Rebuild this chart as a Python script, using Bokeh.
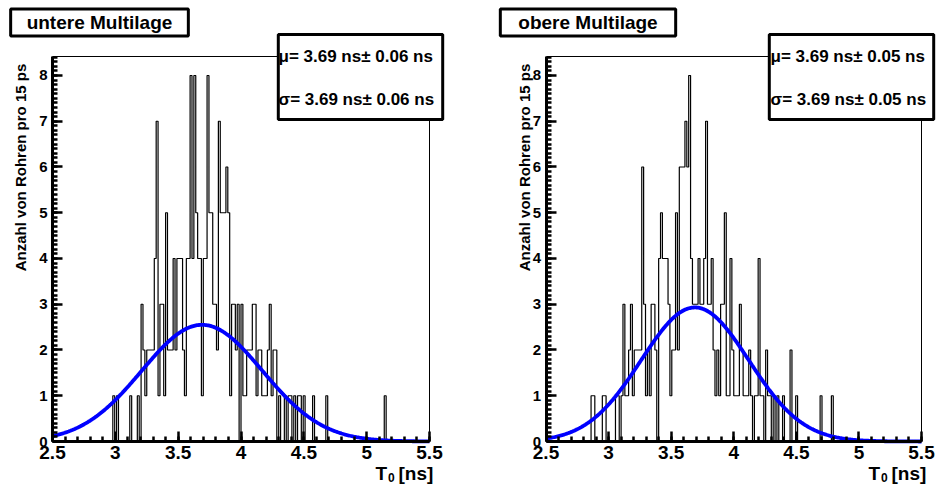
import math
import numpy as np
from bokeh.plotting import figure
from bokeh.models import FixedTicker, Label, Range1d, LinearAxis
from bokeh.layouts import row
from bokeh.embed import file_html
from bokeh.resources import INLINE

# ---------------- data ----------------
bin_start = 2.5
bin_width = 0.015          # 15 ps bins
n_bins = 200               # 2.5 .. 5.5 ns

counts_untere = (
    [0] * 20 +
    [0, 0, 0, 0, 0, 0, 0, 0, 0, 0, 0, 0, 1, 0, 1, 0, 0, 0, 0, 0] +
    [0, 1, 0, 0, 0, 1, 0, 3, 2, 1, 2, 2, 2, 2, 4, 7, 1, 3, 3, 1] +
    [5, 2, 2, 2, 4, 2, 4, 4, 4, 2, 1, 4, 4, 8, 4, 8, 5, 4, 4, 1] +
    [4, 4, 8, 5, 5, 3, 3, 2, 7, 5, 5, 5, 6, 5, 1, 3, 3, 2, 3, 0] +
    [3, 1, 1, 2, 2, 2, 3, 3, 1, 2, 2, 1, 1, 1, 2, 3, 1, 2, 2, 0] +
    [1, 0, 0, 1, 0, 1, 1, 0, 1, 0, 1, 1, 0, 1, 0, 0, 0, 0, 1, 0] +
    [0, 0, 0, 0, 0, 1, 0, 0, 0, 0, 0, 0, 0, 0, 0, 0, 0, 0, 0, 0] +
    [0, 0, 0, 0, 0, 0, 0, 0, 0, 0, 0, 0, 0, 0, 0, 0, 1, 0, 0, 0] +
    [0] * 20
)

counts_obere = (
    [0] * 20 +
    [0, 0, 0, 0, 1, 1, 0, 0, 0, 0, 1, 1, 0, 0, 0, 0, 0, 1, 1, 0] +
    [1, 3, 1, 1, 2, 3, 1, 2, 2, 2, 2, 6, 3, 1, 2, 1, 3, 3, 2, 0] +
    [4, 5, 4, 4, 4, 3, 1, 2, 2, 5, 2, 6, 6, 6, 7, 6, 8, 4, 3, 3] +
    [3, 4, 3, 3, 4, 7, 3, 3, 4, 2, 1, 2, 1, 3, 3, 5, 1, 1, 4, 2] +
    [1, 1, 1, 3, 2, 1, 1, 1, 2, 1, 0, 1, 1, 4, 1, 1, 0, 2, 1, 1] +
    [0, 1, 0, 1, 0, 0, 1, 0, 0, 0, 2, 0, 0, 1, 0, 0, 0, 0, 0, 0] +
    [0, 0, 0, 0, 0, 0, 1, 0, 0, 0, 0, 0, 1, 0, 0, 0, 0, 0, 0, 0] +
    [0] * 40
)

# Gaussian fit parameters (amplitude, mean [ns], sigma [ns])
fit_untere = (2.55, 3.69, 0.48)
fit_obere = (2.93, 3.69, 0.43)

titles = ["untere Multilage", "obere Multilage"]
stats_untere = ["\u03bc= 3.69 ns\u00b1 0.06 ns", "\u03c3= 3.69 ns\u00b1 0.06 ns"]
stats_obere = ["\u03bc= 3.69 ns\u00b1 0.05 ns", "\u03c3= 3.69 ns\u00b1 0.05 ns"]
y_title = "Anzahl von Rohren pro 15 ps"

x_ticks = [2.5, 3, 3.5, 4, 4.5, 5, 5.5]
x_tick_labels = ["2.5", "3", "3.5", "4", "4.5", "5", "5.5"]
y_ticks = [0, 1, 2, 3, 4, 5, 6, 7, 8]
y_tick_labels = ["0", "1", "2", "3", "4", "5", "6", "7", "8"]

X_MIN, X_MAX = 2.5, 5.5
Y_MAX = 8.415

FONT = "Liberation Sans"
FIG_W, FIG_H = 468, 485


def make_panel(counts, fit, title, stats, geo):
    fx = geo["fig_x"]
    X0, X1 = geo["frame_x0"], geo["frame_x1"]
    Y0, Y1 = 441, 56

    sx = (X1 - X0) / (X_MAX - X_MIN)     # px per ns
    sy = (Y0 - Y1) / Y_MAX               # px per count

    def px_x(px):
        return X_MIN + (px - X0) / sx

    def px_y(py):
        return (Y0 - py) / sy

    p = figure(width=FIG_W, height=FIG_H,
               x_range=Range1d(px_x(fx), px_x(fx + FIG_W)),
               y_range=Range1d(px_y(FIG_H), px_y(0)),
               output_backend="svg", toolbar_location=None,
               min_border=0, min_border_left=0, min_border_right=0,
               min_border_top=0, min_border_bottom=0)
    p.grid.visible = False
    p.outline_line_color = None
    p.background_fill_color = "white"
    p.border_fill_color = "white"

    # axes, drawn at the histogram frame via fixed_location
    xa = p.xaxis[0]
    xa.fixed_location = 0
    xa.bounds = (X_MIN, X_MAX)
    xa.ticker = FixedTicker(ticks=x_ticks,
                            minor_ticks=[round(2.5 + 0.1 * i, 2) for i in range(31)])
    xa.major_label_overrides = {t: l for t, l in zip(x_ticks, x_tick_labels)}
    ya = p.yaxis[0]
    ya.fixed_location = X_MIN
    ya.bounds = (0, Y_MAX)
    ya.ticker = FixedTicker(ticks=y_ticks,
                            minor_ticks=[round(0.1 * i, 2) for i in range(85)])
    ya.major_label_overrides = {t: l for t, l in zip(y_ticks, y_tick_labels)}
    for ax in (xa, ya):
        ax.axis_line_width = 3
        ax.axis_line_color = "black"
        ax.major_tick_in = 10
        ax.major_tick_out = 0
        ax.minor_tick_in = 5
        ax.minor_tick_out = 0
        ax.major_tick_line_width = 2.5
        ax.minor_tick_line_width = 2.5
        ax.major_tick_line_color = "black"
        ax.minor_tick_line_color = "black"
        ax.major_label_text_font = FONT
        ax.major_label_text_font_style = "bold"
        ax.major_label_text_color = "black"
    xa.major_label_text_font_size = "19px"
    xa.major_label_standoff = 4
    ya.major_label_text_font_size = "15px"
    ya.major_label_standoff = 5

    # thin top and right frame lines (axes without ticks)
    top = LinearAxis(fixed_location=Y_MAX, bounds=(X_MIN, X_MAX),
                     ticker=FixedTicker(ticks=[], minor_ticks=[]),
                     axis_line_width=1, axis_line_color="black",
                     major_label_text_font_size="0px")
    right = LinearAxis(fixed_location=X_MAX, bounds=(0, Y_MAX),
                       ticker=FixedTicker(ticks=[], minor_ticks=[]),
                       axis_line_width=1, axis_line_color="black",
                       major_label_text_font_size="0px")
    p.add_layout(top, "above")
    p.add_layout(right, "right")

    # histogram (step outline)
    edges = [bin_start + bin_width * i for i in range(n_bins + 1)]
    step_y = list(counts) + [counts[-1]]
    p.step(edges, step_y, mode="after", line_color="black", line_width=1.2)

    # Gaussian fit
    amp, mu, sig = fit
    xs = np.linspace(X_MIN, X_MAX, 400)
    ys = amp * np.exp(-0.5 * ((xs - mu) / sig) ** 2)
    p.line(xs, ys, line_color="#0000ff", line_width=3.8)

    # title box
    tb = geo["title_box"]
    p.add_layout(Label(x=px_x((tb[0] + tb[1]) / 2), y=px_y(22), text=title,
                       text_align="center", text_baseline="middle",
                       text_font=FONT, text_font_style="bold", text_font_size="19px",
                       text_color="black",
                       border_line_color="black", border_line_width=3,
                       background_fill_color="white", background_fill_alpha=1.0,
                       padding=dict(left=geo["title_pad"], right=geo["title_pad"], top=3, bottom=3)))

    # stats box (box sized by a white copy of the text)
    sb = geo["stat_box"]
    p.add_layout(Label(x=px_x((sb[0] + sb[1]) / 2), y=px_y(76.5), text=stats[0],
                       text_align="center", text_baseline="middle",
                       text_font=FONT, text_font_style="bold", text_font_size="17px",
                       text_color="white",
                       border_line_color="black", border_line_width=3,
                       background_fill_color="white", background_fill_alpha=1.0,
                       padding=dict(left=5, right=5, top=33, bottom=33)))
    for s, yy in zip(stats, (56, 98.5)):
        p.add_layout(Label(x=px_x(sb[0] + 3), y=px_y(yy), text=s,
                           text_align="left", text_baseline="middle",
                           text_font=FONT, text_font_style="bold", text_font_size="17px",
                           text_color="black"))

    # y axis title
    p.add_layout(Label(x=px_x(geo["ytitle_x"]), y=px_y(167), text=y_title, angle=math.pi / 2,
                       text_align="center", text_baseline="middle",
                       text_font=FONT, text_font_style="bold", text_font_size="15px",
                       text_color="black"))

    # x axis title  T_0 [ns]
    tx = geo["xtitle_x"]
    p.add_layout(Label(x=px_x(tx), y=px_y(473), text="T",
                       text_align="left", text_baseline="alphabetic",
                       text_font=FONT, text_font_style="bold", text_font_size="19px",
                       text_color="black"))
    p.add_layout(Label(x=px_x(tx + 12.5), y=px_y(477), text="0",
                       text_align="left", text_baseline="alphabetic",
                       text_font=FONT, text_font_style="bold", text_font_size="12px",
                       text_color="black"))
    p.add_layout(Label(x=px_x(tx + 23), y=px_y(473), text="[ns]",
                       text_align="left", text_baseline="alphabetic",
                       text_font=FONT, text_font_style="bold", text_font_size="19px",
                       text_color="black"))
    return p


geo_left = dict(fig_x=0, frame_x0=52, frame_x1=429, title_box=(10, 188), title_pad=16,
                stat_box=(275, 445), ytitle_x=20, xtitle_x=375)
geo_right = dict(fig_x=468, frame_x0=545.5, frame_x1=921, title_box=(500, 675), title_pad=18,
                 stat_box=(767, 935), ytitle_x=524, xtitle_x=868)

p1 = make_panel(counts_untere, fit_untere, titles[0], stats_untere, geo_left)
p2 = make_panel(counts_obere, fit_obere, titles[1], stats_obere, geo_right)

layout = row(p1, p2)
open("out.html", "w").write(file_html(layout, INLINE))
